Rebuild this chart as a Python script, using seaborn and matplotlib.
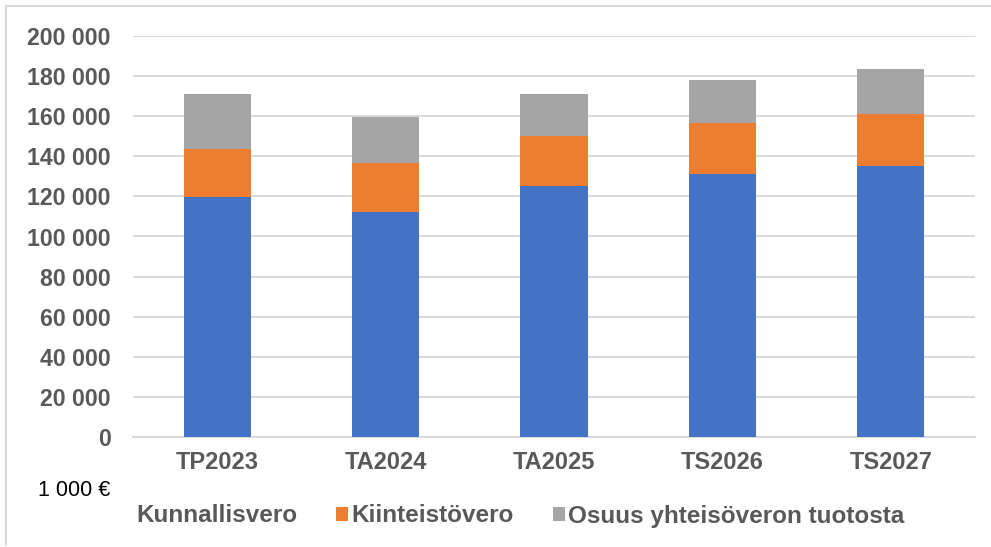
import matplotlib
matplotlib.use("Agg")
import matplotlib.pyplot as plt
from matplotlib.lines import Line2D
from matplotlib.patches import Patch
from matplotlib.ticker import FuncFormatter
import pandas as pd
import seaborn as sns

# data (1 000 €)
years = ["TP2023", "TA2024", "TA2025", "TS2026", "TS2027"]
kunnallisvero = [119700, 112100, 125000, 131300, 135200]
kiinteistovero = [23900, 24400, 25000, 25150, 25750]
yhteisovero = [27400, 22950, 21000, 21450, 22750]
series_names = ["Kunnallisvero", "Kiinteistövero", "Osuus yhteisöveron tuotosta"]
colors = ["#4472C4", "#ED7D31", "#A5A5A5"]
yticks = list(range(0, 200001, 20000))

TEXT_GRAY = "#595959"
GRID_GRAY = "#D9D9D9"

df = pd.DataFrame({
    "year": years,
    "k": kunnallisvero,
    "ki": kiinteistovero,
    "y": yhteisovero,
})
# cumulative tops for layered (stacked-look) bars
df["top1"] = df["k"]
df["top2"] = df["k"] + df["ki"]
df["top3"] = df["k"] + df["ki"] + df["y"]

sns.set_theme(style="white")
plt.rcParams["font.family"] = ["Liberation Sans", "DejaVu Sans"]

fig = plt.figure(figsize=(9.91, 5.47), dpi=100)
ax = fig.add_axes([133 / 991, 1 - 437 / 547, (975 - 133) / 991, (437 - 36) / 547])

# draw largest first so smaller segments sit on top
for col, color in [("top3", colors[2]), ("top2", colors[1]), ("top1", colors[0])]:
    sns.barplot(data=df, x="year", y=col, color=color, width=0.4,
                saturation=1, linewidth=0, edgecolor="none", ax=ax, zorder=3)

ax.set_xlim(-0.5, len(years) - 0.5)
ax.set_ylim(0, 200000)
ax.set_yticks(yticks)
ax.yaxis.set_major_formatter(FuncFormatter(lambda v, p: f"{v:,.0f}".replace(",", " ")))
ax.set_xlabel("")
ax.set_ylabel("")

ax.yaxis.grid(True, color=GRID_GRAY, linewidth=1.4, zorder=0)
ax.set_axisbelow(True)
for side in ["top", "right", "left"]:
    ax.spines[side].set_visible(False)
ax.spines["bottom"].set_color(GRID_GRAY)
ax.spines["bottom"].set_linewidth(1.4)

ax.tick_params(axis="y", length=0, pad=16, labelsize=16.7, labelcolor=TEXT_GRAY)
ax.tick_params(axis="x", length=0, pad=10, labelsize=17, labelcolor=TEXT_GRAY)
for lab in ax.get_xticklabels() + ax.get_yticklabels():
    lab.set_fontweight("bold")

# unit label
fig.text(38 / 991, 1 - 491 / 547, "1 000 €", fontsize=15.5, color="black",
         ha="left", va="center")

# legend (first marker not shown in the reference)
handles = [Patch(facecolor=c, edgecolor="none") for c in colors]
handles[0].set_alpha(0)
leg = fig.legend(handles, series_names, loc="center left",
                 bbox_to_anchor=(121 / 991, 1 - 516 / 547), ncol=3, frameon=False,
                 fontsize=17.5, handlelength=0.5, handleheight=0.5,
                 handletextpad=0.13, columnspacing=1.6, borderaxespad=0,
                 borderpad=0)
for t in leg.get_texts():
    t.set_color(TEXT_GRAY)
    t.set_fontweight("bold")

# outer frame lines (top and left) as in the reference
fig.add_artist(Line2D([6 / 991, 1], [1 - 6 / 547, 1 - 6 / 547], color=GRID_GRAY,
                      linewidth=1.5, transform=fig.transFigure))
fig.add_artist(Line2D([6 / 991, 6 / 991], [1 - 545 / 547, 1 - 6 / 547], color=GRID_GRAY,
                      linewidth=1.5, transform=fig.transFigure))

fig.savefig("out.png", dpi=100)
